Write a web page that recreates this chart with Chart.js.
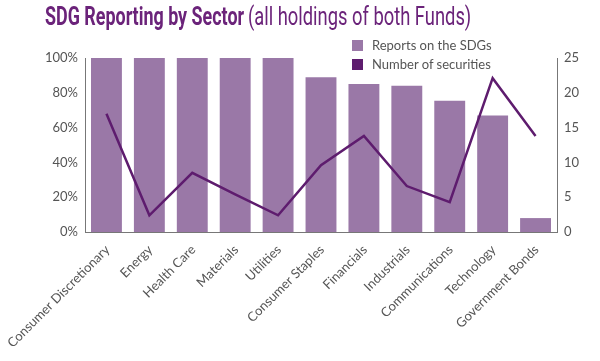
<!DOCTYPE html>
<html>
<head>
<meta charset="utf-8">
<script src="https://cdn.jsdelivr.net/npm/chart.js@4.4.1/dist/chart.umd.min.js"></script>
<style>
  html, body { margin: 0; padding: 0; background: #fff; }
  #wrap { position: relative; width: 600px; height: 361px; }
  .ttl {
    position: absolute; top: 1px; white-space: nowrap; transform-origin: 0 0;
    font-family: Roboto, sans-serif; font-size: 26px; color: #6b237a;
  }
  #t1 { left: 45px; font-weight: bold; }
  #t2 { left: 248px; font-weight: normal; }
  .leg { position: absolute; left: 352px; font-family: Lato, sans-serif; font-size: 13px; color: #555; white-space: nowrap; }
  .leg span { display: inline-block; width: 11px; height: 11px; margin-right: 9px; vertical-align: -1px; }
</style>
</head>
<body>
<div id="wrap">
  <canvas id="chart" width="600" height="361"></canvas>
  <div class="ttl" id="t1">SDG Reporting by Sector</div>
  <div class="ttl" id="t2">(all holdings of both Funds)</div>
  <div class="leg" style="top:37px"><span style="background:#9a78a7"></span>Reports on the SDGs</div>
  <div class="leg" style="top:56px"><span style="background:#5e1c6e"></span>Number of securities</div>
</div>
<script>
const sectors = ["Consumer Discretionary", "Energy", "Health Care", "Materials", "Utilities",
  "Consumer Staples", "Financials", "Industrials", "Communications", "Technology", "Government Bonds"];
const reportsPct = [100, 100, 100, 100, 100, 89, 85, 84, 75.5, 67, 8];
const securities = [17, 2.4, 8.5, 5.4, 2.4, 9.6, 13.8, 6.6, 4.3, 22.1, 13.8];
const pctTicks = [0, 20, 40, 60, 80, 100];
const countTicks = [0, 5, 10, 15, 20, 25];

// squeeze the title so it looks like the condensed face of the original
const fitTitle = (id, w) => {
  const el = document.getElementById(id);
  el.style.transform = "scaleX(" + (w / el.offsetWidth) + ")";
};
fitTitle("t1", 199);
fitTitle("t2", 223);

const tickFont = { family: "Lato", size: 13 };

new Chart(document.getElementById("chart").getContext("2d"), {
  type: "bar",
  data: {
    labels: sectors,
    datasets: [
      {
        type: "line",
        label: "Number of securities",
        data: securities,
        yAxisID: "y1",
        borderColor: "#5e1c6e",
        borderWidth: 2.5,
        pointRadius: 0,
        tension: 0,
        order: 0,
      },
      {
        label: "Reports on the SDGs",
        data: reportsPct,
        yAxisID: "y",
        backgroundColor: "#9a78a7",
        barPercentage: 0.72,
        categoryPercentage: 1,
        order: 1,
      },
    ],
  },
  options: {
    responsive: false,
    animation: false,
    layout: { padding: { top: 58, left: 0, right: 0, bottom: 0 } },
    plugins: { legend: { display: false }, tooltip: { enabled: false }, title: { display: false } },
    scales: {
      x: {
        grid: { display: false, drawTicks: false },
        border: { display: true, color: "#777", width: 1 },
        ticks: { color: "#555", font: tickFont, maxRotation: 45, minRotation: 45, autoSkip: false, padding: 10, labelOffset: 1 },
        afterFit: (s) => { s.height = 129; s.paddingLeft = 0; s.paddingRight = 0; },
      },
      y: {
        position: "left",
        min: 0, max: 100,
        afterBuildTicks: (s) => { s.ticks = pctTicks.map((v) => ({ value: v })); },
        grid: { display: false, drawTicks: false },
        border: { display: true, color: "#777", width: 1 },
        ticks: { color: "#555", font: tickFont, padding: 7, callback: (v) => v + "%" },
        afterFit: (s) => { s.width = 85; },
      },
      y1: {
        position: "right",
        min: 0, max: 25,
        afterBuildTicks: (s) => { s.ticks = countTicks.map((v) => ({ value: v })); },
        grid: { display: false, drawTicks: false },
        border: { display: true, color: "#777", width: 1 },
        ticks: { color: "#555", font: tickFont, padding: 7 },
        afterFit: (s) => { s.width = 43; },
      },
    },
  },
});
</script>
</body>
</html>
